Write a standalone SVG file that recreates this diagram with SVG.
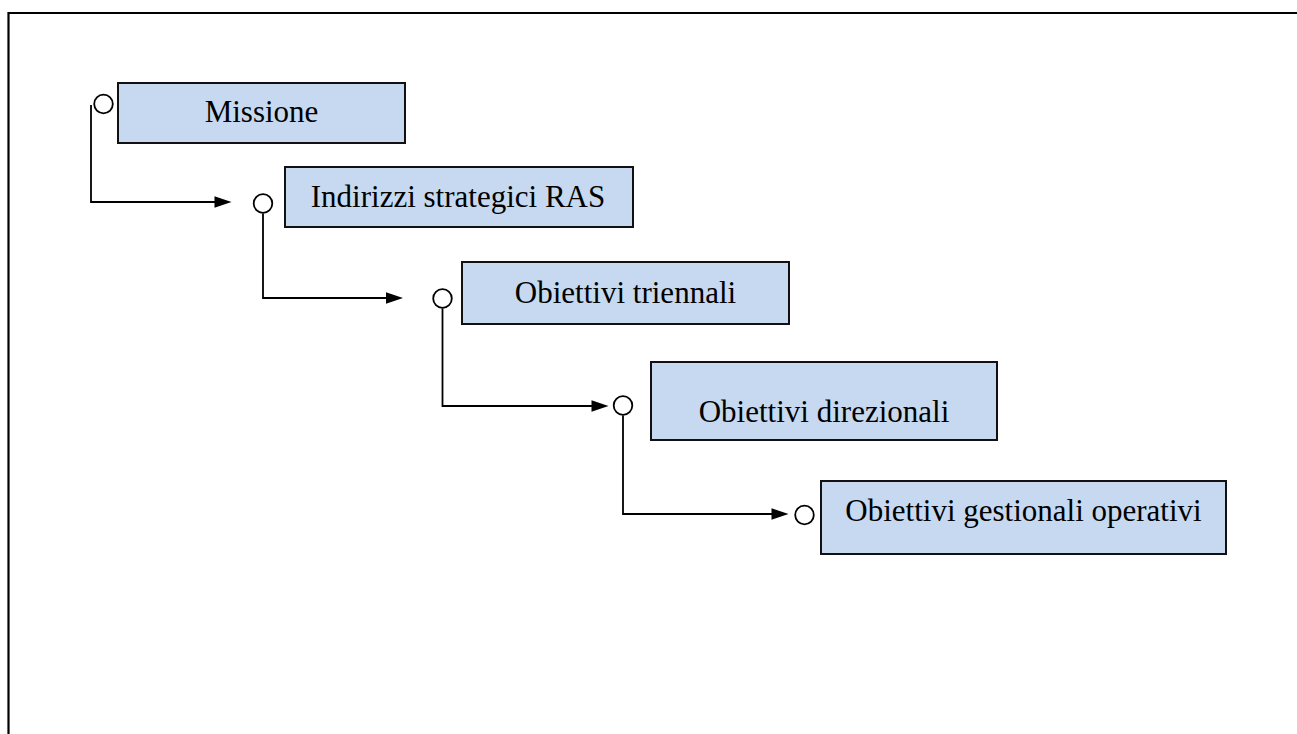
<svg xmlns="http://www.w3.org/2000/svg" width="1297" height="734" viewBox="0 0 1297 734">
<style>
.box{fill:#c6d9f1;stroke:#111;stroke-width:2}
.lbl{font-size:31px;fill:#000;text-anchor:middle}
.dot{fill:#fff;stroke:#000;stroke-width:1.8}
.conn{fill:none;stroke:#000;stroke-width:1.8}
.head{fill:#000}
</style>
<rect width="1297" height="734" fill="#fff"/>
<path d="M8.5,734 V13 H1297" fill="none" stroke="#000" stroke-width="2.2"/>
<g id="connectors">
<path class="conn" d="M91,105 V202 H216"/>
<path class="head" d="M214.5,196.3 L231.5,202 L214.5,207.7 Z"/>
<path class="conn" d="M263,213.5 V298 H388"/>
<path class="head" d="M386,292.3 L403,298 L386,303.7 Z"/>
<path class="conn" d="M442.5,308.5 V406 H593"/>
<path class="head" d="M591.5,400.3 L608.5,406 L591.5,411.7 Z"/>
<path class="conn" d="M623,415.5 V514 H773"/>
<path class="head" d="M771.5,508.3 L788.5,514 L771.5,519.7 Z"/>
</g>
<g id="missione">
<circle class="dot" cx="103.5" cy="104" r="9.3"/>
<rect class="box" x="118" y="83" width="287" height="60"/>
<text class="lbl" font-family="'Liberation Serif', 'Times New Roman', 'DejaVu Serif', serif" x="261.5" y="122">Missione</text>
</g>
<g id="indirizzi">
<circle class="dot" cx="263" cy="203.5" r="9.3"/>
<rect class="box" x="285" y="167" width="348" height="60"/>
<text class="lbl" font-family="'Liberation Serif', 'Times New Roman', 'DejaVu Serif', serif" x="458" y="207">Indirizzi strategici RAS</text>
</g>
<g id="triennali">
<circle class="dot" cx="442.5" cy="298.5" r="9.3"/>
<rect class="box" x="462" y="262" width="327" height="62"/>
<text class="lbl" font-family="'Liberation Serif', 'Times New Roman', 'DejaVu Serif', serif" x="625.5" y="303">Obiettivi triennali</text>
</g>
<g id="direzionali">
<circle class="dot" cx="623" cy="405.5" r="9.3"/>
<rect class="box" x="651" y="362" width="346" height="78"/>
<text class="lbl" font-family="'Liberation Serif', 'Times New Roman', 'DejaVu Serif', serif" x="824" y="422">Obiettivi direzionali</text>
</g>
<g id="gestionali">
<circle class="dot" cx="804.5" cy="515" r="9.3"/>
<rect class="box" x="821" y="481" width="405" height="73"/>
<text class="lbl" font-family="'Liberation Serif', 'Times New Roman', 'DejaVu Serif', serif" x="1023.5" y="521">Obiettivi gestionali operativi</text>
</g>
</svg>
